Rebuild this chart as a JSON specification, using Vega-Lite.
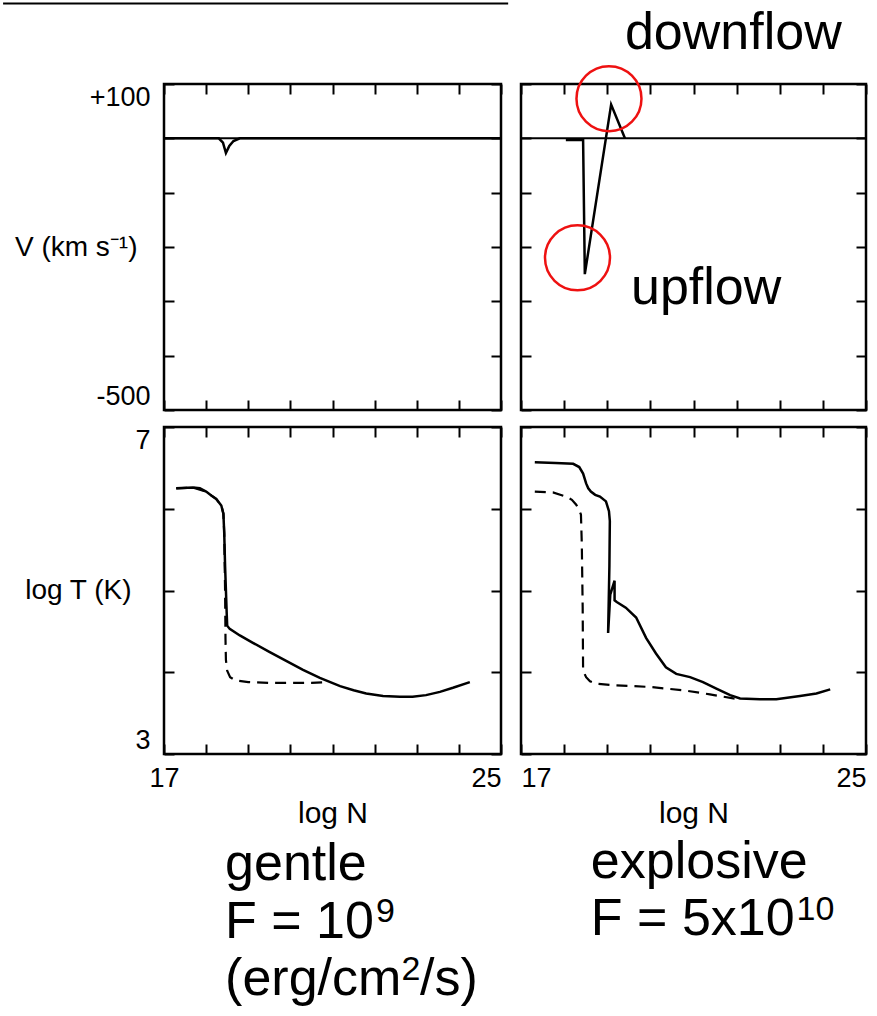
{
  "$schema": "https://vega.github.io/schema/vega-lite/v6.json",
  "background": "white",
  "padding": {"left": 0, "top": 1, "right": 5, "bottom": 5},
  "columns": 2,
  "spacing": {"row": 17, "column": 20},
  "bounds": "flush",
  "datasets": {
    "zero": [{"logN": 17, "v": 0}, {"logN": 25, "v": 0}],
    "topline": [{"x1": 13.18, "x2": 25.17, "v": 248}],
    "v_gentle": [
      {"logN": 17, "v": 0}, {"logN": 18.3, "v": 0}, {"logN": 18.4, "v": -8}, {"logN": 18.47, "v": -27},
      {"logN": 18.55, "v": -14}, {"logN": 18.65, "v": -5}, {"logN": 18.8, "v": 0}, {"logN": 25, "v": 0}
    ],
    "v_explosive": [
      {"logN": 18.04, "v": -3}, {"logN": 18.44, "v": -3}, {"logN": 18.48, "v": -250},
      {"logN": 19.09, "v": 62}, {"logN": 19.41, "v": 0}
    ],
    "t_gentle_solid": [
      {"logN": 17.29, "t": 6.25}, {"logN": 17.69, "t": 6.26}, {"logN": 17.85, "t": 6.25}, {"logN": 18.0, "t": 6.21},
      {"logN": 18.13, "t": 6.16}, {"logN": 18.24, "t": 6.12}, {"logN": 18.36, "t": 6.04}, {"logN": 18.41, "t": 5.94},
      {"logN": 18.43, "t": 5.7}, {"logN": 18.45, "t": 5.3}, {"logN": 18.47, "t": 5.0}, {"logN": 18.49, "t": 4.7},
      {"logN": 18.5, "t": 4.57}, {"logN": 18.56, "t": 4.53}, {"logN": 18.8, "t": 4.45}, {"logN": 19.11, "t": 4.36},
      {"logN": 19.5, "t": 4.25}, {"logN": 19.9, "t": 4.14}, {"logN": 20.3, "t": 4.03}, {"logN": 20.7, "t": 3.93},
      {"logN": 21.18, "t": 3.83}, {"logN": 21.5, "t": 3.78}, {"logN": 21.8, "t": 3.74}, {"logN": 22.2, "t": 3.71},
      {"logN": 22.6, "t": 3.7}, {"logN": 22.9, "t": 3.7}, {"logN": 23.22, "t": 3.72}, {"logN": 23.55, "t": 3.76},
      {"logN": 23.86, "t": 3.81}, {"logN": 24.26, "t": 3.88}
    ],
    "t_gentle_dashed": [
      {"logN": 17.29, "t": 6.25}, {"logN": 17.69, "t": 6.26}, {"logN": 18.0, "t": 6.21}, {"logN": 18.24, "t": 6.12},
      {"logN": 18.36, "t": 6.04}, {"logN": 18.41, "t": 5.94}, {"logN": 18.43, "t": 5.7}, {"logN": 18.45, "t": 5.0},
      {"logN": 18.46, "t": 4.4}, {"logN": 18.47, "t": 4.15}, {"logN": 18.5, "t": 4.02}, {"logN": 18.57, "t": 3.94},
      {"logN": 18.7, "t": 3.9}, {"logN": 19.0, "t": 3.88}, {"logN": 19.5, "t": 3.87}, {"logN": 20.0, "t": 3.87},
      {"logN": 20.5, "t": 3.87}, {"logN": 20.9, "t": 3.88}
    ],
    "t_expl_solid": [
      {"i": 1, "logN": 17.32, "t": 6.57}, {"i": 2, "logN": 17.8, "t": 6.56}, {"i": 3, "logN": 18.21, "t": 6.55},
      {"i": 4, "logN": 18.35, "t": 6.51}, {"i": 5, "logN": 18.44, "t": 6.43}, {"i": 6, "logN": 18.51, "t": 6.31},
      {"i": 7, "logN": 18.56, "t": 6.25}, {"i": 8, "logN": 18.62, "t": 6.21}, {"i": 9, "logN": 18.72, "t": 6.17},
      {"i": 10, "logN": 18.83, "t": 6.15}, {"i": 11, "logN": 18.97, "t": 6.09}, {"i": 12, "logN": 19.04, "t": 5.97},
      {"i": 13, "logN": 19.06, "t": 5.85}, {"i": 14, "logN": 19.05, "t": 5.3}, {"i": 15, "logN": 19.02, "t": 4.48},
      {"i": 16, "logN": 19.07, "t": 4.95}, {"i": 17, "logN": 19.17, "t": 5.12}, {"i": 18, "logN": 19.17, "t": 4.88},
      {"i": 19, "logN": 19.22, "t": 4.86}, {"i": 20, "logN": 19.43, "t": 4.79}, {"i": 21, "logN": 19.67, "t": 4.67},
      {"i": 22, "logN": 19.9, "t": 4.42}, {"i": 23, "logN": 20.13, "t": 4.23}, {"i": 24, "logN": 20.36, "t": 4.06},
      {"i": 25, "logN": 20.6, "t": 3.98}, {"i": 26, "logN": 20.92, "t": 3.94}, {"i": 27, "logN": 21.22, "t": 3.88},
      {"i": 28, "logN": 21.53, "t": 3.8}, {"i": 29, "logN": 21.85, "t": 3.72}, {"i": 30, "logN": 22.08, "t": 3.68},
      {"i": 31, "logN": 22.54, "t": 3.67}, {"i": 32, "logN": 22.92, "t": 3.67}, {"i": 33, "logN": 23.47, "t": 3.71},
      {"i": 34, "logN": 23.85, "t": 3.74}, {"i": 35, "logN": 24.17, "t": 3.79}
    ],
    "t_expl_dashed": [
      {"logN": 17.32, "t": 6.21}, {"logN": 17.74, "t": 6.2}, {"logN": 18.04, "t": 6.15}, {"logN": 18.18, "t": 6.11},
      {"logN": 18.28, "t": 6.05}, {"logN": 18.35, "t": 5.98}, {"logN": 18.39, "t": 5.93}, {"logN": 18.41, "t": 5.57},
      {"logN": 18.43, "t": 4.8}, {"logN": 18.44, "t": 4.02}, {"logN": 18.51, "t": 3.94}, {"logN": 18.6, "t": 3.89},
      {"logN": 18.74, "t": 3.86}, {"logN": 19.2, "t": 3.84}, {"logN": 19.99, "t": 3.82}, {"logN": 20.76, "t": 3.78},
      {"logN": 21.38, "t": 3.73}, {"logN": 21.92, "t": 3.68}, {"logN": 22.1, "t": 3.67}
    ],
    "circles": [{"logN": 19.04, "v": 73}, {"logN": 18.31, "v": -220}],
    "flow_labels": [
      {"logN": 19.41, "v": 164, "label": "downflow"},
      {"logN": 19.55, "v": -305, "label": "upflow"}
    ],
    "gentle_labels": [
      {"logN": 18.45, "t": 1.454, "label": "gentle"},
      {"logN": 18.45, "t": 0.755, "label": "F = 10"},
      {"logN": 18.45, "t": 0.055, "label": "(erg/cm"},
      {"logN": 23.08, "t": 0.055, "label": "/s)"}
    ],
    "gentle_sup": [
      {"logN": 22.03, "t": 0.939, "label": "9"},
      {"logN": 22.64, "t": 0.239, "label": "2"}
    ],
    "expl_labels": [
      {"logN": 18.62, "t": 1.48, "label": "explosive"},
      {"logN": 18.62, "t": 0.787, "label": "F = 5x10"}
    ],
    "expl_sup": [
      {"logN": 23.39, "t": 0.97, "label": "10"}
    ]
  },
  "concat": [
    {
      "width": 337, "height": 326,
      "layer": [
        {
          "data": {"name": "zero"},
          "mark": {"type": "line", "color": "black", "strokeWidth": 2},
          "encoding": {
            "x": {"field": "logN", "type": "quantitative", "scale": {"domain": [17, 25], "nice": false, "zero": false},
                  "axis": {"orient": "bottom", "values": [17, 18, 19, 20, 21, 22, 23, 24, 25], "labels": false, "title": null}},
            "y": {"field": "v", "type": "quantitative", "scale": {"domain": [-500, 100], "nice": false, "zero": false},
                  "axis": {"orient": "left", "values": [-500, -400, -300, -200, -100, 0, 100],
                           "labelExpr": "datum.value == 100 ? '+100' : datum.value == -500 ? '-500' : ''",
                           "labelFlush": true, "labelPadding": 24,
                           "title": "V (km s⁻¹)", "titleAngle": 0, "titleAlign": "right", "titleBaseline": "middle",
                           "titleX": -27, "titleY": 163}}
          }
        },
        {
          "data": {"name": "v_gentle"},
          "mark": {"type": "line", "color": "black", "strokeWidth": 2.5},
          "encoding": {
            "x": {"field": "logN", "type": "quantitative", "scale": {"domain": [17, 25], "nice": false, "zero": false},
                  "axis": {"orient": "top", "values": [17, 18, 19, 20, 21, 22, 23, 24, 25], "labels": false, "title": null}},
            "y": {"field": "v", "type": "quantitative", "scale": {"domain": [-500, 100], "nice": false, "zero": false},
                  "axis": {"orient": "right", "values": [-500, -400, -300, -200, -100, 0, 100], "labels": false, "title": null}}
          }
        },
        {
          "data": {"name": "topline"},
          "mark": {"type": "rule", "color": "black", "strokeWidth": 2},
          "encoding": {
            "x": {"field": "x1", "type": "quantitative", "scale": {"domain": [17, 25], "nice": false, "zero": false}, "axis": null},
            "x2": {"field": "x2"},
            "y": {"field": "v", "type": "quantitative", "scale": {"domain": [-500, 100], "nice": false, "zero": false}, "axis": null}
          }
        }
      ],
      "resolve": {"axis": {"x": "independent", "y": "independent"}}
    },
    {
      "width": 345, "height": 326,
      "layer": [
        {
          "data": {"name": "zero"},
          "mark": {"type": "line", "color": "black", "strokeWidth": 2},
          "encoding": {
            "x": {"field": "logN", "type": "quantitative", "scale": {"domain": [17, 25], "nice": false, "zero": false},
                  "axis": {"orient": "bottom", "values": [17, 18, 19, 20, 21, 22, 23, 24, 25], "labels": false, "title": null}},
            "y": {"field": "v", "type": "quantitative", "scale": {"domain": [-500, 100], "nice": false, "zero": false},
                  "axis": {"orient": "left", "values": [-500, -400, -300, -200, -100, 0, 100], "labels": false, "title": null}}
          }
        },
        {
          "data": {"name": "v_explosive"},
          "mark": {"type": "line", "color": "black", "strokeWidth": 2.5},
          "encoding": {
            "x": {"field": "logN", "type": "quantitative", "scale": {"domain": [17, 25], "nice": false, "zero": false},
                  "axis": {"orient": "top", "values": [17, 18, 19, 20, 21, 22, 23, 24, 25], "labels": false, "title": null}},
            "y": {"field": "v", "type": "quantitative", "scale": {"domain": [-500, 100], "nice": false, "zero": false},
                  "axis": {"orient": "right", "values": [-500, -400, -300, -200, -100, 0, 100], "labels": false, "title": null}}
          }
        },
        {
          "data": {"name": "circles"},
          "mark": {"type": "point", "shape": "circle", "filled": false, "size": 4225, "color": "#ee1111", "strokeWidth": 2.5, "opacity": 1},
          "encoding": {
            "x": {"field": "logN", "type": "quantitative", "scale": {"domain": [17, 25], "nice": false, "zero": false}, "axis": null},
            "y": {"field": "v", "type": "quantitative", "scale": {"domain": [-500, 100], "nice": false, "zero": false}, "axis": null}
          }
        },
        {
          "data": {"name": "flow_labels"},
          "mark": {"type": "text", "align": "left", "baseline": "alphabetic", "fontSize": 52, "font": "Liberation Sans", "color": "black"},
          "encoding": {
            "x": {"field": "logN", "type": "quantitative", "scale": {"domain": [17, 25], "nice": false, "zero": false}, "axis": null},
            "y": {"field": "v", "type": "quantitative", "scale": {"domain": [-500, 100], "nice": false, "zero": false}, "axis": null},
            "text": {"field": "label"}
          }
        }
      ],
      "resolve": {"axis": {"x": "independent", "y": "independent"}}
    },
    {
      "width": 337, "height": 327,
      "layer": [
        {
          "data": {"name": "t_gentle_dashed"},
          "mark": {"type": "line", "color": "black", "strokeWidth": 2.2, "strokeDash": [11, 7]},
          "encoding": {
            "x": {"field": "logN", "type": "quantitative", "scale": {"domain": [17, 25], "nice": false, "zero": false},
                  "axis": {"orient": "bottom", "values": [17, 18, 19, 20, 21, 22, 23, 24, 25],
                           "labelExpr": "datum.value == 17 || datum.value == 25 ? datum.label : ''",
                           "labelFlush": false,
                           "labelAlign": {"condition": {"test": "datum.value == 25", "value": "right"}, "value": "center"},
                           "labelPadding": 21,
                           "title": "log N", "titleY": 68, "titleBaseline": "alphabetic", "titleFontSize": 30}},
            "y": {"field": "t", "type": "quantitative", "scale": {"domain": [3, 7], "nice": false, "zero": false},
                  "axis": {"orient": "left", "values": [3, 4, 5, 6, 7],
                           "labelExpr": "datum.value == 3 || datum.value == 7 ? datum.label : ''",
                           "labelFlush": true, "labelPadding": 24,
                           "title": "log T (K)", "titleAngle": 0, "titleAlign": "right", "titleBaseline": "middle",
                           "titleX": -33, "titleY": 163}}
          }
        },
        {
          "data": {"name": "t_gentle_solid"},
          "mark": {"type": "line", "color": "black", "strokeWidth": 2.5},
          "encoding": {
            "x": {"field": "logN", "type": "quantitative", "scale": {"domain": [17, 25], "nice": false, "zero": false},
                  "axis": {"orient": "top", "values": [17, 18, 19, 20, 21, 22, 23, 24, 25], "labels": false, "title": null}},
            "y": {"field": "t", "type": "quantitative", "scale": {"domain": [3, 7], "nice": false, "zero": false},
                  "axis": {"orient": "right", "values": [3, 4, 5, 6, 7], "labels": false, "title": null}}
          }
        },
        {
          "data": {"name": "gentle_labels"},
          "mark": {"type": "text", "align": "left", "baseline": "alphabetic", "fontSize": 52, "font": "Liberation Sans", "color": "black"},
          "encoding": {
            "x": {"field": "logN", "type": "quantitative", "scale": {"domain": [17, 25], "nice": false, "zero": false}, "axis": null},
            "y": {"field": "t", "type": "quantitative", "scale": {"domain": [3, 7], "nice": false, "zero": false}, "axis": null},
            "text": {"field": "label"}
          }
        },
        {
          "data": {"name": "gentle_sup"},
          "mark": {"type": "text", "align": "left", "baseline": "alphabetic", "fontSize": 34, "font": "Liberation Sans", "color": "black"},
          "encoding": {
            "x": {"field": "logN", "type": "quantitative", "scale": {"domain": [17, 25], "nice": false, "zero": false}, "axis": null},
            "y": {"field": "t", "type": "quantitative", "scale": {"domain": [3, 7], "nice": false, "zero": false}, "axis": null},
            "text": {"field": "label"}
          }
        }
      ],
      "resolve": {"axis": {"x": "independent", "y": "independent"}}
    },
    {
      "width": 345, "height": 327,
      "layer": [
        {
          "data": {"name": "t_expl_dashed"},
          "mark": {"type": "line", "color": "black", "strokeWidth": 2.2, "strokeDash": [11, 7]},
          "encoding": {
            "x": {"field": "logN", "type": "quantitative", "scale": {"domain": [17, 25], "nice": false, "zero": false},
                  "axis": {"orient": "bottom", "values": [17, 18, 19, 20, 21, 22, 23, 24, 25],
                           "labelExpr": "datum.value == 17 || datum.value == 25 ? datum.label : ''",
                           "labelFlush": true, "labelPadding": 21,
                           "title": "log N", "titleY": 68, "titleBaseline": "alphabetic", "titleFontSize": 30}},
            "y": {"field": "t", "type": "quantitative", "scale": {"domain": [3, 7], "nice": false, "zero": false},
                  "axis": {"orient": "left", "values": [3, 4, 5, 6, 7], "labels": false, "title": null}}
          }
        },
        {
          "data": {"name": "t_expl_solid"},
          "mark": {"type": "line", "color": "black", "strokeWidth": 2.5},
          "encoding": {
            "x": {"field": "logN", "type": "quantitative", "scale": {"domain": [17, 25], "nice": false, "zero": false},
                  "axis": {"orient": "top", "values": [17, 18, 19, 20, 21, 22, 23, 24, 25], "labels": false, "title": null}},
            "y": {"field": "t", "type": "quantitative", "scale": {"domain": [3, 7], "nice": false, "zero": false},
                  "axis": {"orient": "right", "values": [3, 4, 5, 6, 7], "labels": false, "title": null}},
            "order": {"field": "i", "type": "quantitative"}
          }
        },
        {
          "data": {"name": "expl_labels"},
          "mark": {"type": "text", "align": "left", "baseline": "alphabetic", "fontSize": 52, "font": "Liberation Sans", "color": "black"},
          "encoding": {
            "x": {"field": "logN", "type": "quantitative", "scale": {"domain": [17, 25], "nice": false, "zero": false}, "axis": null},
            "y": {"field": "t", "type": "quantitative", "scale": {"domain": [3, 7], "nice": false, "zero": false}, "axis": null},
            "text": {"field": "label"}
          }
        },
        {
          "data": {"name": "expl_sup"},
          "mark": {"type": "text", "align": "left", "baseline": "alphabetic", "fontSize": 34, "font": "Liberation Sans", "color": "black"},
          "encoding": {
            "x": {"field": "logN", "type": "quantitative", "scale": {"domain": [17, 25], "nice": false, "zero": false}, "axis": null},
            "y": {"field": "t", "type": "quantitative", "scale": {"domain": [3, 7], "nice": false, "zero": false}, "axis": null},
            "text": {"field": "label"}
          }
        }
      ],
      "resolve": {"axis": {"x": "independent", "y": "independent"}}
    }
  ],
  "config": {
    "view": {"stroke": "black", "strokeWidth": 2.5},
    "font": "Liberation Sans",
    "axis": {
      "grid": false, "domain": false, "tickColor": "black", "tickWidth": 2, "tickSize": -10,
      "labelFont": "Liberation Sans", "labelFontSize": 27, "labelColor": "black", "labelOverlap": false,
      "titleFont": "Liberation Sans", "titleFontSize": 28, "titleFontWeight": "normal", "titleColor": "black"
    }
  }
}
